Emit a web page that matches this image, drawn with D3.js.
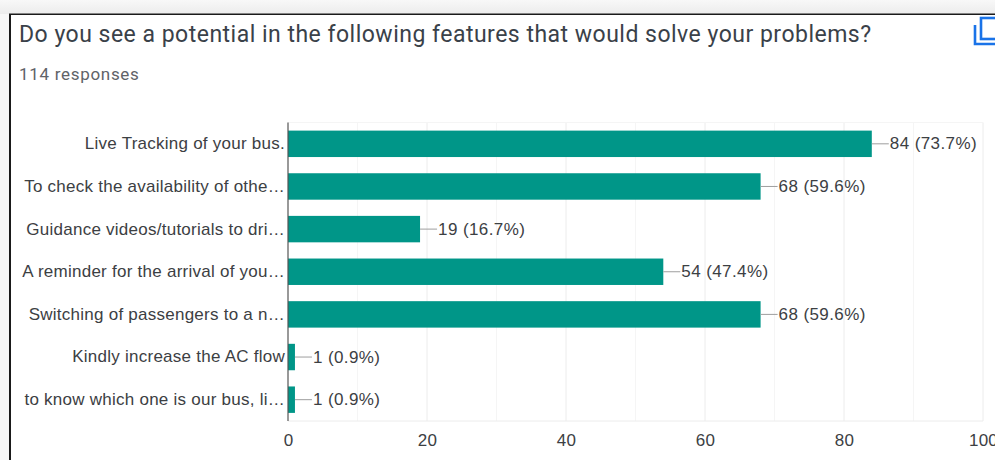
<!DOCTYPE html>
<html>
<head>
<meta charset="utf-8">
<script src="https://cdn.jsdelivr.net/npm/d3@7"></script>
<style>
html, body { margin: 0; padding: 0; background: #fff; overflow: hidden; }
text { font-family: Roboto, Arial, sans-serif; }
.label { font-family: "Liberation Sans", Arial, sans-serif; font-size: 17px; letter-spacing: 0.25px; fill: #3c4043; }
</style>
</head>
<body>
<div id="chart"></div>
<script>
// values
var categories = [
	"Live Tracking of your bus.",
	"To check the availability of othe\u2026",
	"Guidance videos/tutorials to dri\u2026",
	"A reminder for the arrival of you\u2026",
	"Switching of passengers to a n\u2026",
	"Kindly increase the AC flow",
	"to know which one is our bus, li\u2026"
];
var counts = [84, 68, 19, 54, 68, 1, 1];
var percents = ["73.7", "59.6", "16.7", "47.4", "59.6", "0.9", "0.9"];
var majorTicks = [0, 20, 40, 60, 80, 100];
var minorTicks = [10, 30, 50, 70, 90];

var width = 995, height = 460;
var plot = {left: 288, right: 983, top: 122.5, bottom: 421};

var svg = d3.select("#chart")
	.append("svg")
	.attr("width", width)
	.attr("height", height)
	.style("display", "block");

// screenshot frame
var defs = svg.append("defs");
var shade = defs.append("linearGradient").attr("id", "shade").attr("x1", 0).attr("y1", 0).attr("x2", 0).attr("y2", 1);
shade.append("stop").attr("offset", 0).attr("stop-color", "#f8f8f8");
shade.append("stop").attr("offset", 1).attr("stop-color", "#ececec");

svg.append("rect").attr("width", width).attr("height", 14).attr("fill", "url(#shade)");
svg.append("rect").attr("y", 14).attr("width", 10).attr("height", height - 14).attr("fill", "#f7f7f7");
svg.append("rect").attr("x", 9).attr("y", 13.5).attr("width", width - 9).attr("height", 1.5).attr("fill", "#1a1a1a");
svg.append("rect").attr("x", 9).attr("y", 14).attr("width", 2).attr("height", height - 14).attr("fill", "#1a1a1a");

// title
svg.append("text")
	.attr("x", 19)
	.attr("y", 41.5)
	.attr("font-size", 23)
	.attr("letter-spacing", 0.49)
	.attr("fill", "#3a4149")
	.text("Do you see a potential in the following features that would solve your problems?");

svg.append("text")
	.attr("x", 19)
	.attr("y", 80)
	.attr("font-size", 17)
	.attr("letter-spacing", 0.7)
	.attr("fill", "#5f6368")
	.text("114 responses");

// copy icon
var icon = svg.append("g").attr("fill", "none").attr("stroke", "#1a73e8").attr("stroke-width", 2.6);
icon.append("path").attr("d", "M975 25V44H995");
icon.append("rect").attr("x", 981).attr("y", 18).attr("width", 30).attr("height", 21);

var x = d3.scaleLinear().domain([0, 100]).range([plot.left, plot.right]);
var y = d3.scaleBand().domain(categories).range([plot.top, plot.bottom]).paddingInner(0.38).paddingOuter(0.19);

// grid
svg.append("g").selectAll("line")
	.data(minorTicks)
	.enter()
	.append("line")
	.attr("x1", d => x(d)).attr("x2", d => x(d))
	.attr("y1", plot.top).attr("y2", plot.bottom)
	.attr("stroke", "#f5f5f5");

svg.append("g").selectAll("line")
	.data(majorTicks.slice(1))
	.enter()
	.append("line")
	.attr("x1", d => x(d)).attr("x2", d => x(d))
	.attr("y1", plot.top).attr("y2", plot.bottom)
	.attr("stroke", "#ececec");

svg.append("line")
	.attr("x1", plot.left).attr("x2", plot.right)
	.attr("y1", plot.top).attr("y2", plot.top)
	.attr("stroke", "#f5f5f5");
svg.append("line")
	.attr("x1", plot.left).attr("x2", plot.right)
	.attr("y1", plot.bottom).attr("y2", plot.bottom)
	.attr("stroke", "#ececec");

// bars
var rows = categories.map((c, i) => ({category: c, count: counts[i], percent: percents[i]}));

svg.append("g").selectAll("rect")
	.data(rows)
	.enter()
	.append("rect")
	.attr("x", x(0))
	.attr("y", d => y(d.category))
	.attr("width", d => x(d.count) - x(0))
	.attr("height", y.bandwidth())
	.attr("fill", "#009688");

// leader lines and value labels
svg.append("g").selectAll("line")
	.data(rows)
	.enter()
	.append("line")
	.attr("x1", d => x(d.count))
	.attr("x2", d => x(d.count) + 17)
	.attr("y1", d => y(d.category) + y.bandwidth() / 2)
	.attr("y2", d => y(d.category) + y.bandwidth() / 2)
	.attr("stroke", "#9e9e9e");

svg.append("g").selectAll("text")
	.data(rows)
	.enter()
	.append("text")
	.attr("class", "label")
	.attr("x", d => x(d.count) + 18)
	.attr("y", d => y(d.category) + y.bandwidth() / 2 + 5.5)
	.style("letter-spacing", "0.4px")
	.text(d => d.count + " (" + d.percent + "%)");

// axes
var yAxis = svg.append("g")
	.attr("transform", "translate(" + plot.left + ",0)")
	.call(d3.axisLeft(y).tickSize(0).tickPadding(3));
yAxis.select(".domain").attr("stroke", "#555").attr("stroke-width", 1.2).attr("d", "M0," + plot.top + "V" + plot.bottom);
yAxis.selectAll("text").attr("class", "label").attr("font-family", null).attr("font-size", null);

var xAxis = svg.append("g")
	.attr("transform", "translate(0," + plot.bottom + ")")
	.call(d3.axisBottom(x).tickValues(majorTicks).tickSize(0).tickPadding(13));
xAxis.select(".domain").remove();
xAxis.selectAll("text").attr("class", "label").attr("font-family", null).attr("font-size", null);
</script>
</body>
</html>
